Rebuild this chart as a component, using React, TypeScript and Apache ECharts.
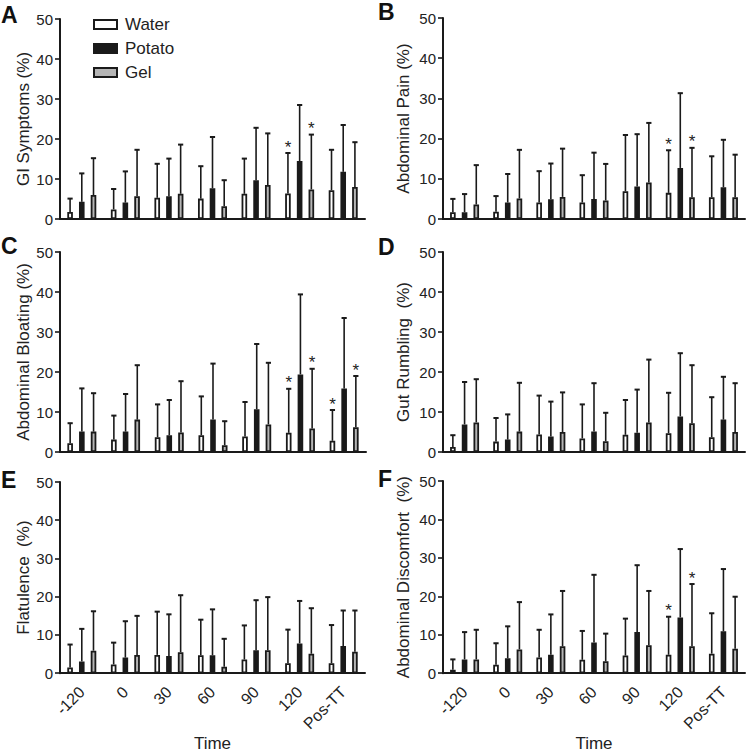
import React, { useEffect, useRef } from "react";
import * as echarts from "echarts";

// ---------- data ----------
const categories = ["-120", "0", "30", "60", "90", "120", "Pos-TT"];
const groupNames = ["Water", "Potato", "Gel"];

// A: GI Symptoms
const giWater = [1.75, 2.4, 5.3, 5.1, 6.3, 6.4, 7.2];
const giPotato = [4.3, 4.1, 5.7, 7.7, 9.7, 14.5, 11.8];
const giGel = [6.0, 5.7, 6.3, 3.2, 8.5, 7.4, 8.0];
const giWaterUpper = [5.1, 7.5, 13.8, 13.2, 15.1, 16.5, 17.3];
const giPotatoUpper = [11.4, 11.9, 15.1, 20.5, 22.8, 28.5, 23.5];
const giGelUpper = [15.2, 17.3, 18.6, 9.7, 21.4, 21.1, 19.2];
const giStars = [[5, 0], [5, 2]];

// B: Abdominal Pain
const painWater = [1.7, 1.8, 4.1, 4.1, 6.9, 6.5, 5.4];
const painPotato = [1.7, 4.1, 4.9, 5.0, 8.1, 12.7, 7.9];
const painGel = [3.6, 5.1, 5.5, 4.6, 9.1, 5.4, 5.4];
const painWaterUpper = [5.0, 5.7, 11.9, 10.9, 20.9, 17.1, 15.6];
const painPotatoUpper = [6.2, 11.2, 13.8, 16.5, 21.1, 31.3, 19.7];
const painGelUpper = [13.4, 17.2, 17.5, 13.7, 23.9, 17.7, 16.0];
const painStars = [[5, 0], [5, 2]];

// C: Abdominal Bloating
const bloatWater = [2.2, 3.1, 3.7, 4.2, 3.9, 4.8, 2.8];
const bloatPotato = [5.1, 5.1, 4.2, 8.1, 10.7, 19.4, 15.9];
const bloatGel = [5.1, 8.1, 4.9, 1.7, 6.9, 5.9, 6.2];
const bloatWaterUpper = [7.2, 9.1, 11.9, 13.9, 12.5, 15.8, 10.5];
const bloatPotatoUpper = [15.9, 14.5, 13.0, 22.1, 27.0, 39.4, 33.5];
const bloatGelUpper = [14.7, 21.7, 17.7, 7.7, 22.3, 20.8, 19.0];
const bloatStars = [[5, 0], [5, 2], [6, 0], [6, 2]];

// D: Gut Rumbling
const rumbWater = [1.25, 2.6, 4.4, 3.4, 4.3, 4.7, 3.7];
const rumbPotato = [6.9, 3.1, 3.9, 5.1, 4.8, 8.9, 8.1];
const rumbGel = [7.4, 5.1, 5.0, 2.7, 7.4, 7.2, 5.0];
const rumbWaterUpper = [4.2, 8.5, 14.1, 11.9, 13.0, 14.8, 13.7];
const rumbPotatoUpper = [17.5, 9.4, 12.6, 17.2, 15.6, 24.7, 18.8];
const rumbGelUpper = [18.2, 17.3, 14.9, 9.8, 23.1, 21.7, 17.2];
const rumbStars: number[][] = [];

// E: Flatulence
const flatWater = [1.5, 2.3, 4.8, 4.7, 3.6, 2.6, 2.6];
const flatPotato = [3.1, 4.1, 4.5, 4.7, 6.0, 7.8, 7.1];
const flatGel = [5.9, 4.8, 5.5, 1.7, 6.0, 5.1, 5.6];
const flatWaterUpper = [7.5, 8.0, 16.1, 14.0, 12.5, 11.4, 12.6];
const flatPotatoUpper = [11.6, 13.6, 15.4, 16.7, 19.1, 18.9, 16.4];
const flatGelUpper = [16.2, 15.0, 20.4, 9.0, 19.9, 17.0, 16.4];
const flatStars: number[][] = [];

// F: Abdominal Discomfort
const discWater = [0.9, 2.2, 4.1, 3.5, 4.6, 4.8, 5.1];
const discPotato = [3.6, 3.9, 4.8, 8.0, 10.7, 14.5, 10.9];
const discGel = [3.6, 6.2, 7.0, 3.1, 7.3, 7.0, 6.4];
const discWaterUpper = [3.6, 7.8, 11.3, 11.0, 14.2, 14.7, 15.6];
const discPotatoUpper = [10.7, 12.2, 15.3, 25.6, 28.1, 32.3, 27.1];
const discGelUpper = [11.3, 18.5, 21.4, 10.3, 21.4, 23.2, 19.9];
const discStars = [[5, 0], [5, 2]];

const panels = [
  { letter: "A", title: "GI Symptoms (%)", means: [giWater, giPotato, giGel], uppers: [giWaterUpper, giPotatoUpper, giGelUpper], stars: giStars },
  { letter: "B", title: "Abdominal Pain (%)", means: [painWater, painPotato, painGel], uppers: [painWaterUpper, painPotatoUpper, painGelUpper], stars: painStars },
  { letter: "C", title: "Abdominal Bloating (%)", means: [bloatWater, bloatPotato, bloatGel], uppers: [bloatWaterUpper, bloatPotatoUpper, bloatGelUpper], stars: bloatStars },
  { letter: "D", title: "Gut Rumbling  (%)", means: [rumbWater, rumbPotato, rumbGel], uppers: [rumbWaterUpper, rumbPotatoUpper, rumbGelUpper], stars: rumbStars },
  { letter: "E", title: "Flatulence  (%)", means: [flatWater, flatPotato, flatGel], uppers: [flatWaterUpper, flatPotatoUpper, flatGelUpper], stars: flatStars },
  { letter: "F", title: "Abdominal Discomfort  (%)", means: [discWater, discPotato, discGel], uppers: [discWaterUpper, discPotatoUpper, discGelUpper], stars: discStars },
];

// ---------- layout / style ----------
const FONT = '"Liberation Sans", Arial, Helvetica, sans-serif';
const INK = "#1a1a1a";
const grids = [
  { left: 60, top: 19, width: 305, height: 200 },
  { left: 443, top: 18, width: 302, height: 201 },
  { left: 60, top: 252, width: 306, height: 200 },
  { left: 443, top: 252, width: 302, height: 200 },
  { left: 60, top: 482, width: 305, height: 200 },
  { left: 443, top: 481, width: 302, height: 201 },
];
const letterPos = [
  [1, 3], [378, 0], [1, 234], [378, 235], [1, 468], [378, 467],
];
const BAR_W = 5.6;
const BAR_GAP = 1.09;
const OFFSET = BAR_W * (1 + BAR_GAP);
const barStyles = [
  { color: "#ffffff", borderColor: INK, borderWidth: 1.8 },
  { color: INK, borderColor: INK, borderWidth: 1.8 },
  { color: "#b5b5b5", borderColor: INK, borderWidth: 1.8 },
];

function renderErr(params: any, api: any) {
  const cat = api.value(0);
  const mean = api.value(1);
  const up = api.value(2);
  const g = api.value(3);
  const star = api.value(4);
  const p0 = api.coord([cat, mean]);
  const p1 = api.coord([cat, up]);
  const x = p0[0] + (g - 1) * OFFSET;
  const children: any[] = [
    { type: "line", shape: { x1: x, y1: p0[1], x2: x, y2: p1[1] }, style: { stroke: INK, lineWidth: 1.6 } },
    { type: "line", shape: { x1: x - 2.6, y1: p1[1], x2: x + 2.6, y2: p1[1] }, style: { stroke: INK, lineWidth: 2 } },
  ];
  if (star) {
    children.push({
      type: "text",
      x,
      y: p1[1] - 6,
      style: { text: "*", fontSize: 17, fontFamily: FONT, fill: "#222", align: "center", verticalAlign: "middle" },
    });
  }
  return { type: "group", children };
}

function buildOption() {
  const xAxis: any[] = [];
  const yAxis: any[] = [];
  const series: any[] = [];
  panels.forEach((p, i) => {
    const bottom = i >= 4;
    const right = i % 2 === 1;
    xAxis.push({
      type: "category",
      gridIndex: i,
      data: categories,
      axisLine: { lineStyle: { color: INK, width: 2 } },
      axisTick: { alignWithLabel: true, length: 5, lineStyle: { color: INK, width: 1.6 } },
      axisLabel: {
        show: bottom,
        rotate: 45,
        fontSize: 16,
        fontFamily: FONT,
        color: "#222",
        margin: 16,
        interval: 0,
      },
      name: bottom ? "Time" : "",
      nameLocation: "middle",
      nameGap: 52,
      nameTextStyle: { fontSize: 17, fontFamily: FONT, color: "#222" },
    });
    yAxis.push({
      type: "value",
      gridIndex: i,
      min: 0,
      max: 50,
      interval: 10,
      splitLine: { show: false },
      axisLine: { show: true, lineStyle: { color: INK, width: 2 } },
      axisTick: { show: true, length: 5, lineStyle: { color: INK, width: 1.6 } },
      axisLabel: { fontSize: 15, fontFamily: FONT, color: "#222", margin: 7 },
      name: p.title,
      nameLocation: "middle",
      nameGap: right ? 31 : 27,
      nameTextStyle: { fontSize: 17, fontFamily: FONT, color: "#222" },
    });
    p.means.forEach((m, g) => {
      series.push({
        type: "bar",
        name: groupNames[g],
        xAxisIndex: i,
        yAxisIndex: i,
        data: m,
        barWidth: BAR_W,
        barGap: `${Math.round(BAR_GAP * 100)}%`,
        itemStyle: barStyles[g],
        emphasis: { disabled: true },
        z: 2,
      });
    });
    const errData: number[][] = [];
    categories.forEach((_, c) => {
      for (let g = 0; g < 3; g++) {
        const star = p.stars.some((s) => s[0] === c && s[1] === g) ? 1 : 0;
        errData.push([c, p.means[g][c], p.uppers[g][c], g, star]);
      }
    });
    series.push({
      type: "custom",
      name: "err" + p.letter,
      xAxisIndex: i,
      yAxisIndex: i,
      data: errData,
      encode: { x: 0, y: 2 },
      renderItem: renderErr,
      z: 3,
      silent: true,
    });
  });

  return {
    animation: false,
    backgroundColor: "#ffffff",
    grid: grids.map((g) => ({ ...g, containLabel: false })),
    xAxis,
    yAxis,
    legend: {
      data: groupNames,
      orient: "vertical",
      left: 88,
      top: 11,
      itemWidth: 23,
      itemHeight: 9,
      itemGap: 7,
      icon: "rect",
      textStyle: { fontSize: 17, fontFamily: FONT, color: "#222", padding: [0, 0, 0, 3] },
      selectedMode: false,
    },
    graphic: panels.map((p, i) => ({
      type: "text",
      left: letterPos[i][0],
      top: letterPos[i][1],
      style: { text: p.letter, fontSize: 23, fontWeight: "bold", fontFamily: FONT, fill: "#111" },
    })),
    series,
  };
}

export default function App() {
  const ref = useRef<HTMLDivElement>(null);
  useEffect(() => {
    if (!ref.current) return;
    const chart = echarts.init(ref.current, undefined, { renderer: "svg" });
    chart.setOption(buildOption() as any);
    return () => chart.dispose();
  }, []);
  return (
    <div
      ref={ref}
      style={{ position: "fixed", left: 0, top: 0, width: 748, height: 753, background: "#fff" }}
    />
  );
}
